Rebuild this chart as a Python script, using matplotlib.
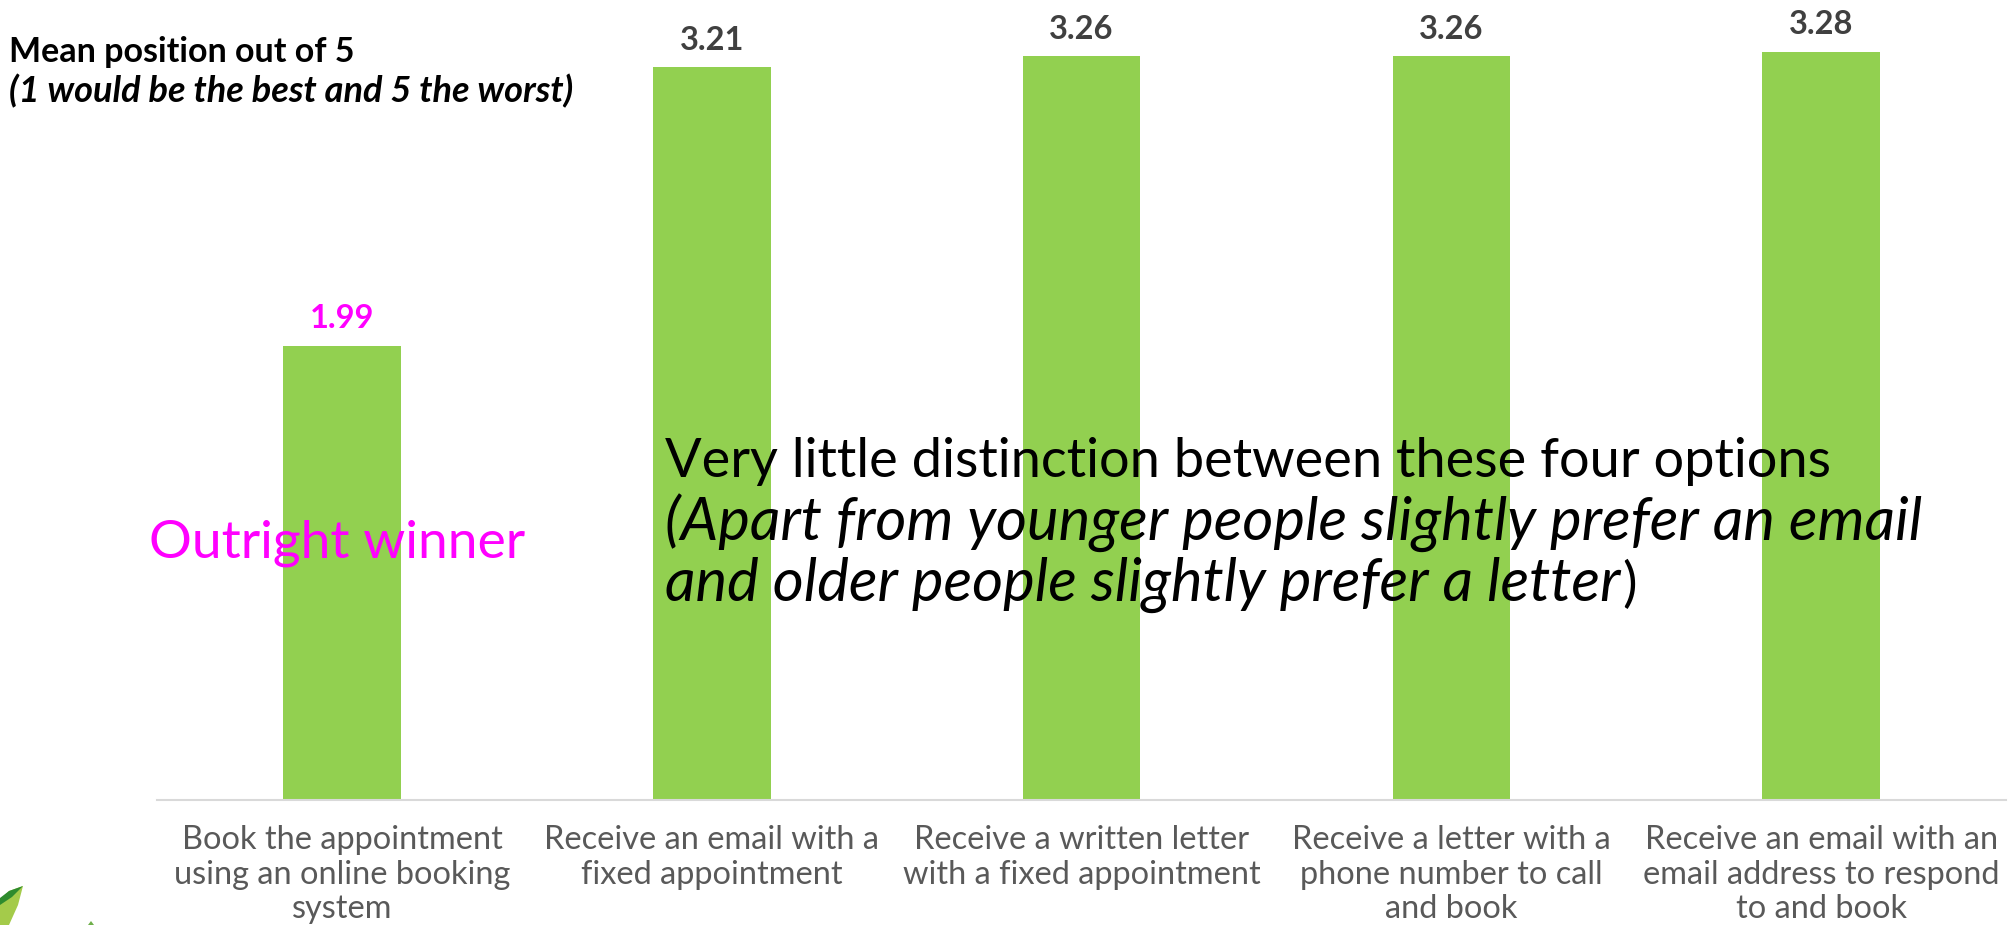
import matplotlib
matplotlib.use("Agg")
import matplotlib.pyplot as plt
from matplotlib.patches import Polygon

categories = [
    "Book the appointment\nusing an online booking\nsystem",
    "Receive an email with a\nfixed appointment",
    "Receive a written letter\nwith a fixed appointment",
    "Receive a letter with a\nphone number to call\nand book",
    "Receive an email with an\nemail address to respond\nto and book",
]
values = [1.99, 3.21, 3.26, 3.26, 3.28]
value_labels = ["1.99", "3.21", "3.26", "3.26", "3.28"]
label_colors = ["#FF00FF", "#404040", "#404040", "#404040", "#404040"]

W, H = 2009, 925
plt.rcParams['font.family'] = ['Lato', 'DejaVu Sans']
fig = plt.figure(figsize=(W / 100, H / 100), dpi=100, facecolor="white")
ax = fig.add_axes([157.3 / W, 1 - 800 / H, (2006 - 157.3) / W, 800 / H])
ax.bar(range(5), values, width=0.318, color="#92D050", linewidth=0, zorder=2)
ax.set_xlim(-0.5, 4.5)
ax.set_ylim(0, 800 / 228.2)
for s in ["top", "left", "right"]:
    ax.spines[s].set_visible(False)
ax.spines["bottom"].set_color("#D9D9D9")
ax.spines["bottom"].set_linewidth(1.5)
ax.set_yticks([])
ax.set_xticks(range(5))
ax.set_xticklabels(categories, fontsize=23.4, color="#595959", linespacing=1.19)
ax.tick_params(axis="x", length=0, pad=18)
for i, (v, t, c) in enumerate(zip(values, value_labels, label_colors)):
    ax.annotate(t, (i, v), xytext=(0, 9), textcoords="offset points", ha="center", va="bottom",
                fontsize=23.5, fontweight="bold", color=c)

def px(x, y):
    return x / W, 1 - y / H

fig.text(*px(9, 52), "Mean position out of 5", fontsize=24.5, fontweight="bold", color="black", va="center")
fig.text(*px(9, 91), "(1 would be the best and 5 the worst)", fontsize=26, fontweight="bold", style="italic",
         color="black", va="center")
fig.text(*px(149, 543), "Outright winner", fontsize=38.5, color="#FF00FF", va="center")
fig.text(*px(665, 462), "Very little distinction between these four options", fontsize=39, color="black", va="center")
fig.text(*px(665, 523), "(Apart from younger people slightly prefer an email", fontsize=43, style="italic", color="black", va="center")
line3 = fig.text(*px(665, 585), "and older people slightly prefer a letter", fontsize=43, style="italic", color="black", va="center")
fig.canvas.draw()
end = line3.get_window_extent().x1
fig.text((end + 2) / W, 1 - 585 / H, ")", fontsize=39, color="black", va="center")

# decorative leaf fragment at the bottom-left corner of the slide
fig.add_artist(Polygon([px(0, 925), px(0, 900), px(9, 891), px(23, 886), px(18, 905), px(9, 925)],
                       closed=True, transform=fig.transFigure, facecolor="#A4CB4A", edgecolor="none"))
fig.add_artist(Polygon([px(0, 905), px(0, 898), px(9, 891), px(23, 886), px(12, 897)],
                       closed=True, transform=fig.transFigure, facecolor="#2E8B2E", edgecolor="none"))
fig.add_artist(Polygon([px(88, 925), px(91, 921), px(94, 925)],
                       closed=True, transform=fig.transFigure, facecolor="#6FAF4A", edgecolor="none"))

fig.savefig("out.png", dpi=100, facecolor="white")
